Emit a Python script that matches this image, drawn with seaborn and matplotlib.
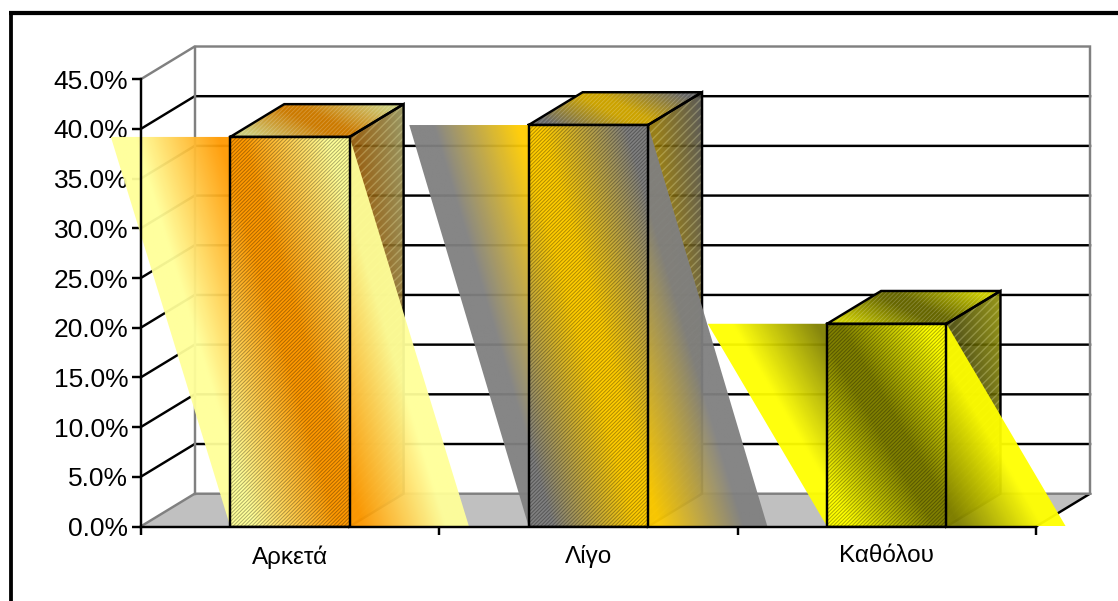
import numpy as np
import matplotlib
matplotlib.use("Agg")
import matplotlib.pyplot as plt
from matplotlib.colors import to_rgb
from matplotlib.lines import Line2D
from matplotlib.patches import Polygon
from matplotlib.ticker import FuncFormatter, MultipleLocator
import seaborn as sns

# Survey shares, one bar per answer
categories = ["Αρκετά", "Λίγο", "Καθόλου"]
shares = [39.2, 40.4, 20.4]

# Two-colour axial fills: edge colour, middle colour
edge_colors = ["#FFFF99", "#808080", "#FFFF00"]
mid_colors = ["#FF9900", "#FFCC00", "#808000"]

W, H = 1118, 601
FRONT_L, FRONT_R, FRONT_B, FRONT_T = 140.7, 1036.0, 526.5, 79.3
DEPTH_X = 54 / ((FRONT_R - FRONT_L) / 3)   # category units
DEPTH_Y = 3.3                              # percentage points
BAR_WIDTH = 0.4
Y_MAX = 45
LW = 1.75
GREY = "#808080"

sns.set_theme(style="white")
plt.rcParams["font.family"] = ["Liberation Sans", "DejaVu Sans"]

fig = plt.figure(figsize=(W / 100, H / 100), dpi=100, facecolor="white")
ax = fig.add_axes([FRONT_L / W, 1 - FRONT_B / H,
                   (FRONT_R - FRONT_L) / W, (FRONT_B - FRONT_T) / H])

sns.barplot(x=categories, y=shares, width=BAR_WIDTH, fill=False, color="black",
            linewidth=LW, err_kws={"linewidth": 0}, ax=ax, zorder=9)
ax.set_xlim(-0.5, 2.5)
ax.set_ylim(0, Y_MAX)


def axial(u, edge, mid):
    """Edge -> middle -> edge colour ramp for u in 0..1."""
    t = np.interp(u, [0, 0.10, 0.45, 0.55, 0.90, 1], [0, 0, 1, 1, 0, 0])[..., None]
    return np.asarray(to_rgb(edge)) * (1 - t) + np.asarray(to_rgb(mid)) * t


def paint(corners, ramp_u, edge, mid, shade=1.0, alpha=1.0, zorder=3):
    """Fill a polygon with a gradient evaluated on a fine data-space grid."""
    pts = np.asarray(corners)
    x0, x1, y0, y1 = pts[:, 0].min(), pts[:, 0].max(), pts[:, 1].min(), pts[:, 1].max()
    xs, ys = np.meshgrid(np.linspace(x0, x1, 400), np.linspace(y0, y1, 400))
    rgb = axial(ramp_u(xs, ys), edge, mid) * shade
    rgba = np.dstack([rgb, np.full(xs.shape, alpha)])
    im = ax.imshow(rgba, extent=(x0, x1, y0, y1), origin="lower", aspect="auto",
                   interpolation="bilinear", zorder=zorder)
    clip = Polygon(pts, closed=True, transform=ax.transData)
    im.set_clip_box(fig.bbox)
    im.set_clip_path(clip)
    return im


def stripes(corners, density, color, width=0.9, zorder=4):
    ax.add_patch(Polygon(corners, closed=True, fill=False, edgecolor=color, linewidth=0,
                         hatch="/" * density, hatch_linewidth=width,
                         clip_on=False, zorder=zorder))


def outline(points, color="black", lw=LW, zorder=2, closed=False):
    pts = np.asarray(points)
    if closed:
        pts = np.vstack([pts, pts[0]])
    ax.plot(pts[:, 0], pts[:, 1], color=color, lw=lw, clip_on=False, zorder=zorder,
            solid_capstyle="projecting", solid_joinstyle="miter")


# Room behind the bars: floor, back-wall gridlines, side-wall gridlines
xl, xr = -0.5, 2.5
floor = [(xl, 0), (xl + DEPTH_X, DEPTH_Y), (xr + DEPTH_X, DEPTH_Y), (xr, 0)]
ax.add_patch(Polygon(floor, closed=True, facecolor="#C0C0C0", edgecolor="none",
                     clip_on=False, zorder=1))
grid_levels = np.arange(5, Y_MAX, 5)
for level in grid_levels:
    outline([(xl, level), (xl + DEPTH_X, level + DEPTH_Y), (xr + DEPTH_X, level + DEPTH_Y)])
outline([(xl, Y_MAX), (xl + DEPTH_X, Y_MAX + DEPTH_Y), (xr + DEPTH_X, Y_MAX + DEPTH_Y),
         (xr + DEPTH_X, DEPTH_Y)], color=GREY)
outline([(xl + DEPTH_X, Y_MAX + DEPTH_Y), (xl + DEPTH_X, DEPTH_Y)], color=GREY)
outline([(xl, 0), (xl + DEPTH_X, DEPTH_Y), (xr + DEPTH_X, DEPTH_Y)], color=GREY)
outline([(xr, 0), (xr + DEPTH_X, DEPTH_Y)], zorder=1.5)

# Extrude each bar drawn by seaborn and fill it
for bar, edge, mid in zip(ax.patches, edge_colors, mid_colors):
    x0 = bar.get_x()
    w = bar.get_width()
    h = bar.get_height()
    x1 = x0 + w
    dx, dy = DEPTH_X, DEPTH_Y

    # Ramp coordinate: isolines run parallel to the slanted sheared edges
    def sheared(xs, ys, x0=x0, w=w, h=h):
        return (xs - (x0 - w * ys / h)) / (2 * w)

    top = [(x0, h), (x1, h), (x1 + dx, h + dy), (x0 + dx, h + dy)]
    side = [(x1, h), (x1 + dx, h + dy), (x1 + dx, dy), (x1, 0)]
    sheet = [(x0 - w, h), (x1, h), (x1 + w, 0), (x0, 0)]
    face = [(x0, 0), (x1, 0), (x1, h), (x0, h)]

    def top_u(xs, ys, x0=x0, w=w, h=h, dx=dx, dy=dy):
        b = (ys - h) / dy
        a = (xs - x0 - b * dx) / w
        return (a + b) / 2

    def side_u(xs, ys, x1=x1, h=h, dx=dx, dy=dy):
        a = (xs - x1) / dx
        b = (h + a * dy - ys) / h
        return np.clip(0.5 + 0.4 * a - 0.3 * b, 0, 1)

    paint(top, top_u, edge, mid, shade=0.8, zorder=3)
    stripes(top, 8, (1, 1, 1, 0.22), width=0.6, zorder=3.1)
    paint(side, side_u, edge, mid, shade=0.55, alpha=0.9, zorder=3)
    stripes(side, 4, (1, 1, 0.75, 0.25), width=1.0, zorder=3.1)
    outline(top, zorder=3.2, closed=True)
    outline(side, zorder=3.2, closed=True)

    # Sheared gradient sheet sticks out on both sides of the front face
    paint(sheet, sheared, edge, mid, alpha=0.95, zorder=5)

    # Front face: opaque gradient with a fine dark stripe overlay
    paint(face, sheared, edge, mid, zorder=6)
    stripes(face, 9, (0, 0, 0, 0.32), width=0.7, zorder=7)

# Axis dressing sits above the sheets
ax.xaxis.set_major_locator(MultipleLocator(1))
ax.set_xticks(np.arange(-0.5, 3, 1))
ax.set_xticks(np.arange(3), labels=categories, minor=True)
ax.yaxis.set_major_locator(MultipleLocator(5))
ax.yaxis.set_major_formatter(FuncFormatter(lambda v, _: f"{v:.1f}%"))
ax.tick_params(axis="x", which="major", length=6, width=LW, color="black", labelbottom=False,
               bottom=True, direction="out")
ax.tick_params(axis="x", which="minor", length=0, pad=13.5, labelsize=17.5, labelcolor="black")
ax.tick_params(axis="y", length=6.5, width=LW, color="black", pad=2.5, labelsize=19,
               labelcolor="black", left=True, direction="out")
ax.set_xlabel("")
ax.set_ylabel("")
ax.set_axisbelow(False)
ax.patch.set_visible(False)
for name in ("top", "right"):
    ax.spines[name].set_visible(False)
for name in ("left", "bottom"):
    ax.spines[name].set_color("black")
    ax.spines[name].set_linewidth(LW)
    ax.spines[name].set_zorder(10)

# Frame: only the left and top rules of the chart area
px = 72 / 100
fig.add_artist(Line2D([10.9 / W, 10.9 / W], [0, 1 - 13.2 / H], color="black", lw=3.8 * px,
                      solid_capstyle="butt"))
fig.add_artist(Line2D([9 / W, 1], [1 - 13.2 / H, 1 - 13.2 / H], color="black", lw=4.2 * px,
                      solid_capstyle="butt"))

fig.savefig("out.png", dpi=100, facecolor="white")
